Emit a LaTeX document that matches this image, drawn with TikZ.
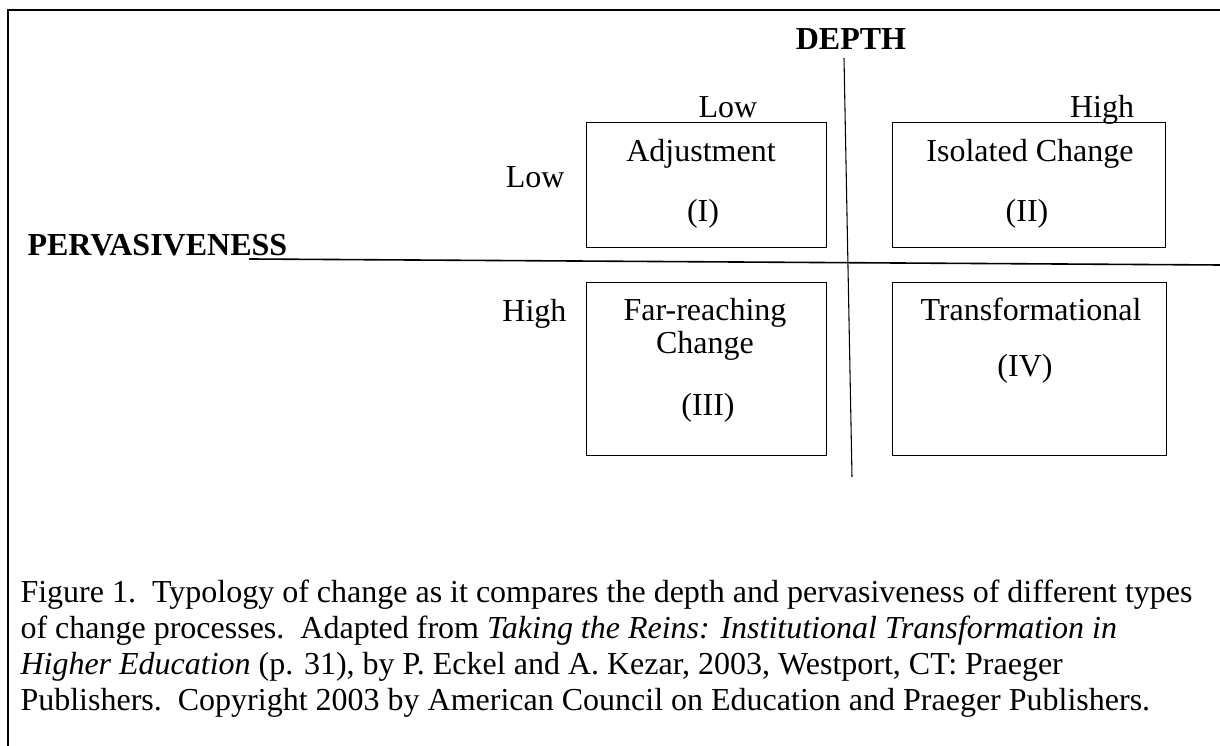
\documentclass[tikz,border=0pt]{standalone}
\usepackage{fontspec}
\setmainfont{Liberation Serif}

\begin{document}
\begin{tikzpicture}[x=0.375pt,y=-0.375pt,font=\fontsize{12}{14}\selectfont,
  lbl/.style={inner sep=0pt,anchor=base},
  quad/.style={draw,line width=0.5pt,inner sep=0pt,anchor=north west}]

\useasboundingbox (0,0) rectangle (1220,746);
\draw[line width=0.75pt] (8,746) -- (8,10) -- (1220,10);

% axes
\node[lbl] (depth) at (851,50) {\textbf{DEPTH}};
\node[lbl,anchor=base west] (perv) at (27,256) {\textbf{PERVASIVENESS}};
\coordinate (dtop) at (844,58);
\coordinate (dbot) at (852,477);
\coordinate (pleft) at (249,259);
\coordinate (pright) at (1220,265);
\draw[line width=0.4pt] (dtop) -- (dbot);
\draw[line width=0.6pt] (pleft) -- (pright);

\node[lbl] (dlow) at (728,118) {Low};
\node[lbl] (dhigh) at (1102,118) {High};
\node[lbl,anchor=base east] (plow) at (565,188) {Low};
\node[lbl,anchor=base east] (phigh) at (567,322) {High};

% quadrants
\node[quad,minimum width=90pt,minimum height=46.9pt] (adj) at (586,122) {};
\node[quad,minimum width=102.4pt,minimum height=46.9pt] (iso) at (892,122) {};
\node[quad,minimum width=90pt,minimum height=64.9pt] (far) at (586,282) {};
\node[quad,minimum width=102.8pt,minimum height=64.9pt] (tra) at (892,282) {};

\node[lbl] (adjt) at (701,162) {Adjustment};
\node[lbl] (adjn) at (703,222) {(I)};
\node[lbl] (isot) at (1030,162) {Isolated Change};
\node[lbl] (ison) at (1027,222) {(II)};
\node[lbl] (fart) at (705,321) {Far-reaching};
\node[lbl] (farc) at (705,354) {Change};
\node[lbl] (farn) at (708,416) {(III)};
\node[lbl] (trat) at (1031,321) {Transformational};
\node[lbl] (tran) at (1025,377) {(IV)};

% caption
\node[lbl,anchor=base west] (cap1) at (20,603) {Figure 1.~~Typology of change as it compares the depth and pervasiveness of different types};
\node[lbl,anchor=base west] (cap2) at (20,639) {of change processes.~~Adapted from \textit{Taking the Reins: Institutional Transformation in}};
\node[lbl,anchor=base west] (cap3) at (20,675) {\textit{Higher Education} (p. 31), by P. Eckel and A. Kezar, 2003, Westport, CT: Praeger};
\node[lbl,anchor=base west] (cap4) at (20,711) {Publishers.~~Copyright 2003 by American Council on Education and Praeger Publishers.};

\end{tikzpicture}
\end{document}
